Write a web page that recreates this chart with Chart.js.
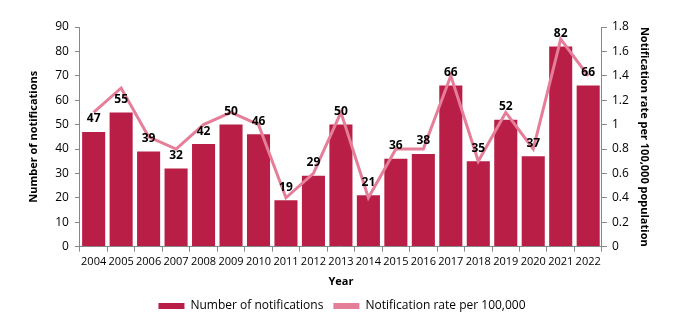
<!DOCTYPE html>
<html>
<head>
<meta charset="utf-8">
<script src="https://cdn.jsdelivr.net/npm/chart.js@4/dist/chart.umd.min.js"></script>
<style>
  html, body { margin: 0; padding: 0; background: #fff; }
  #wrap { width: 687px; height: 332px; }
</style>
</head>
<body>
<div id="wrap"><canvas id="notifChart" width="687" height="332"></canvas></div>
<script>
const years = ['2004','2005','2006','2007','2008','2009','2010','2011','2012','2013','2014','2015','2016','2017','2018','2019','2020','2021','2022']
const notifications = [47,55,39,32,42,50,46,19,29,50,21,36,38,66,35,52,37,82,66]
const ratePer100k = [1.1,1.3,0.9,0.8,1.0,1.1,1.0,0.4,0.6,1.1,0.4,0.8,0.8,1.4,0.7,1.1,0.8,1.7,1.4]

const barColor = '#B91F46'
const lineColor = '#E57E98'
const axisColor = '#888888'
const fontFamily = "'Open Sans', 'Noto Sans', sans-serif"

// labels on top of bars, Excel style
const barLabels = {
    id: 'barLabels',
    afterDatasetsDraw(chart) {
        const ctx = chart.ctx
        const meta = chart.getDatasetMeta(1)
        ctx.save()
        ctx.font = 'bold 12px ' + fontFamily
        ctx.fillStyle = '#000'
        ctx.textAlign = 'center'
        ctx.textBaseline = 'middle'
        meta.data.forEach((bar, i) => {
            ctx.fillText(notifications[i], bar.x, bar.y - 13)
        })
        ctx.restore()
    }
}

new Chart('notifChart', {
    type: 'bar',
    data: {
        labels: years,
        datasets: [
            {
                type: 'line',
                label: 'Notification rate per 100,000',
                data: ratePer100k,
                yAxisID: 'y2',
                borderColor: lineColor,
                backgroundColor: lineColor,
                borderWidth: 3,
                pointRadius: 0,
                tension: 0,
                order: 0,
            },
            {
                label: 'Number of notifications',
                data: notifications,
                yAxisID: 'y',
                backgroundColor: barColor,
                borderWidth: 0,
                barPercentage: 0.84,
                categoryPercentage: 1,
                order: 1,
            },
        ]
    },
    options: {
        responsive: false,
        animation: false,
        layout: { padding: { left: 23, right: 26, top: 27, bottom: 10 } },
        plugins: {
            legend: {
                position: 'bottom',
                reverse: true,
                labels: {
                    font: { family: fontFamily, size: 12 },
                    color: '#000',
                    boxWidth: 26,
                    boxHeight: 6,
                    padding: 10,
                    generateLabels(chart) {
                        return chart.data.datasets.map((ds, i) => ({
                            text: ds.label,
                            fillStyle: ds.type === 'line' ? ds.borderColor : ds.backgroundColor,
                            strokeStyle: 'transparent',
                            lineWidth: 0,
                            datasetIndex: i,
                            boxHeight: ds.type === 'line' ? 3 : 6,
                        }))
                    }
                }
            },
            tooltip: { enabled: false },
        },
        scales: {
            x: {
                offset: true,
                grid: { display: true, drawOnChartArea: false, drawTicks: true, tickLength: 5, offset: true, color: axisColor },
                border: { color: axisColor },
                ticks: { color: '#000', font: { family: fontFamily, size: 11 }, maxRotation: 0, autoSkip: false, padding: 4 },
                title: { display: true, text: 'Year', color: '#000', font: { family: fontFamily, size: 11, weight: 'bold' }, padding: { top: 2, bottom: 2 } },
            },
            y: {
                position: 'left',
                min: 0, max: 90,
                ticks: { stepSize: 10, color: '#000', font: { family: fontFamily, size: 12 }, padding: 6 },
                grid: { display: true, drawOnChartArea: false, drawTicks: true, tickLength: 5, color: axisColor },
                border: { color: axisColor },
                title: { display: true, text: 'Number of notifications', color: '#000', font: { family: fontFamily, size: 11, weight: 'bold' }, padding: { bottom: 9 } },
            },
            y2: {
                position: 'right',
                min: 0, max: 1.8,
                ticks: { stepSize: 0.2, color: '#000', font: { family: fontFamily, size: 12 }, padding: 5,
                    callback: v => Math.round(v * 10) / 10 },
                grid: { display: true, drawOnChartArea: false, drawTicks: true, tickLength: 5, color: axisColor },
                border: { color: axisColor },
                title: { display: true, text: 'Notification rate per 100,000 population', color: '#000', font: { family: fontFamily, size: 11, weight: 'bold' }, padding: { top: 10 } },
            },
        }
    },
    plugins: [barLabels]
})
</script>
</body>
</html>
